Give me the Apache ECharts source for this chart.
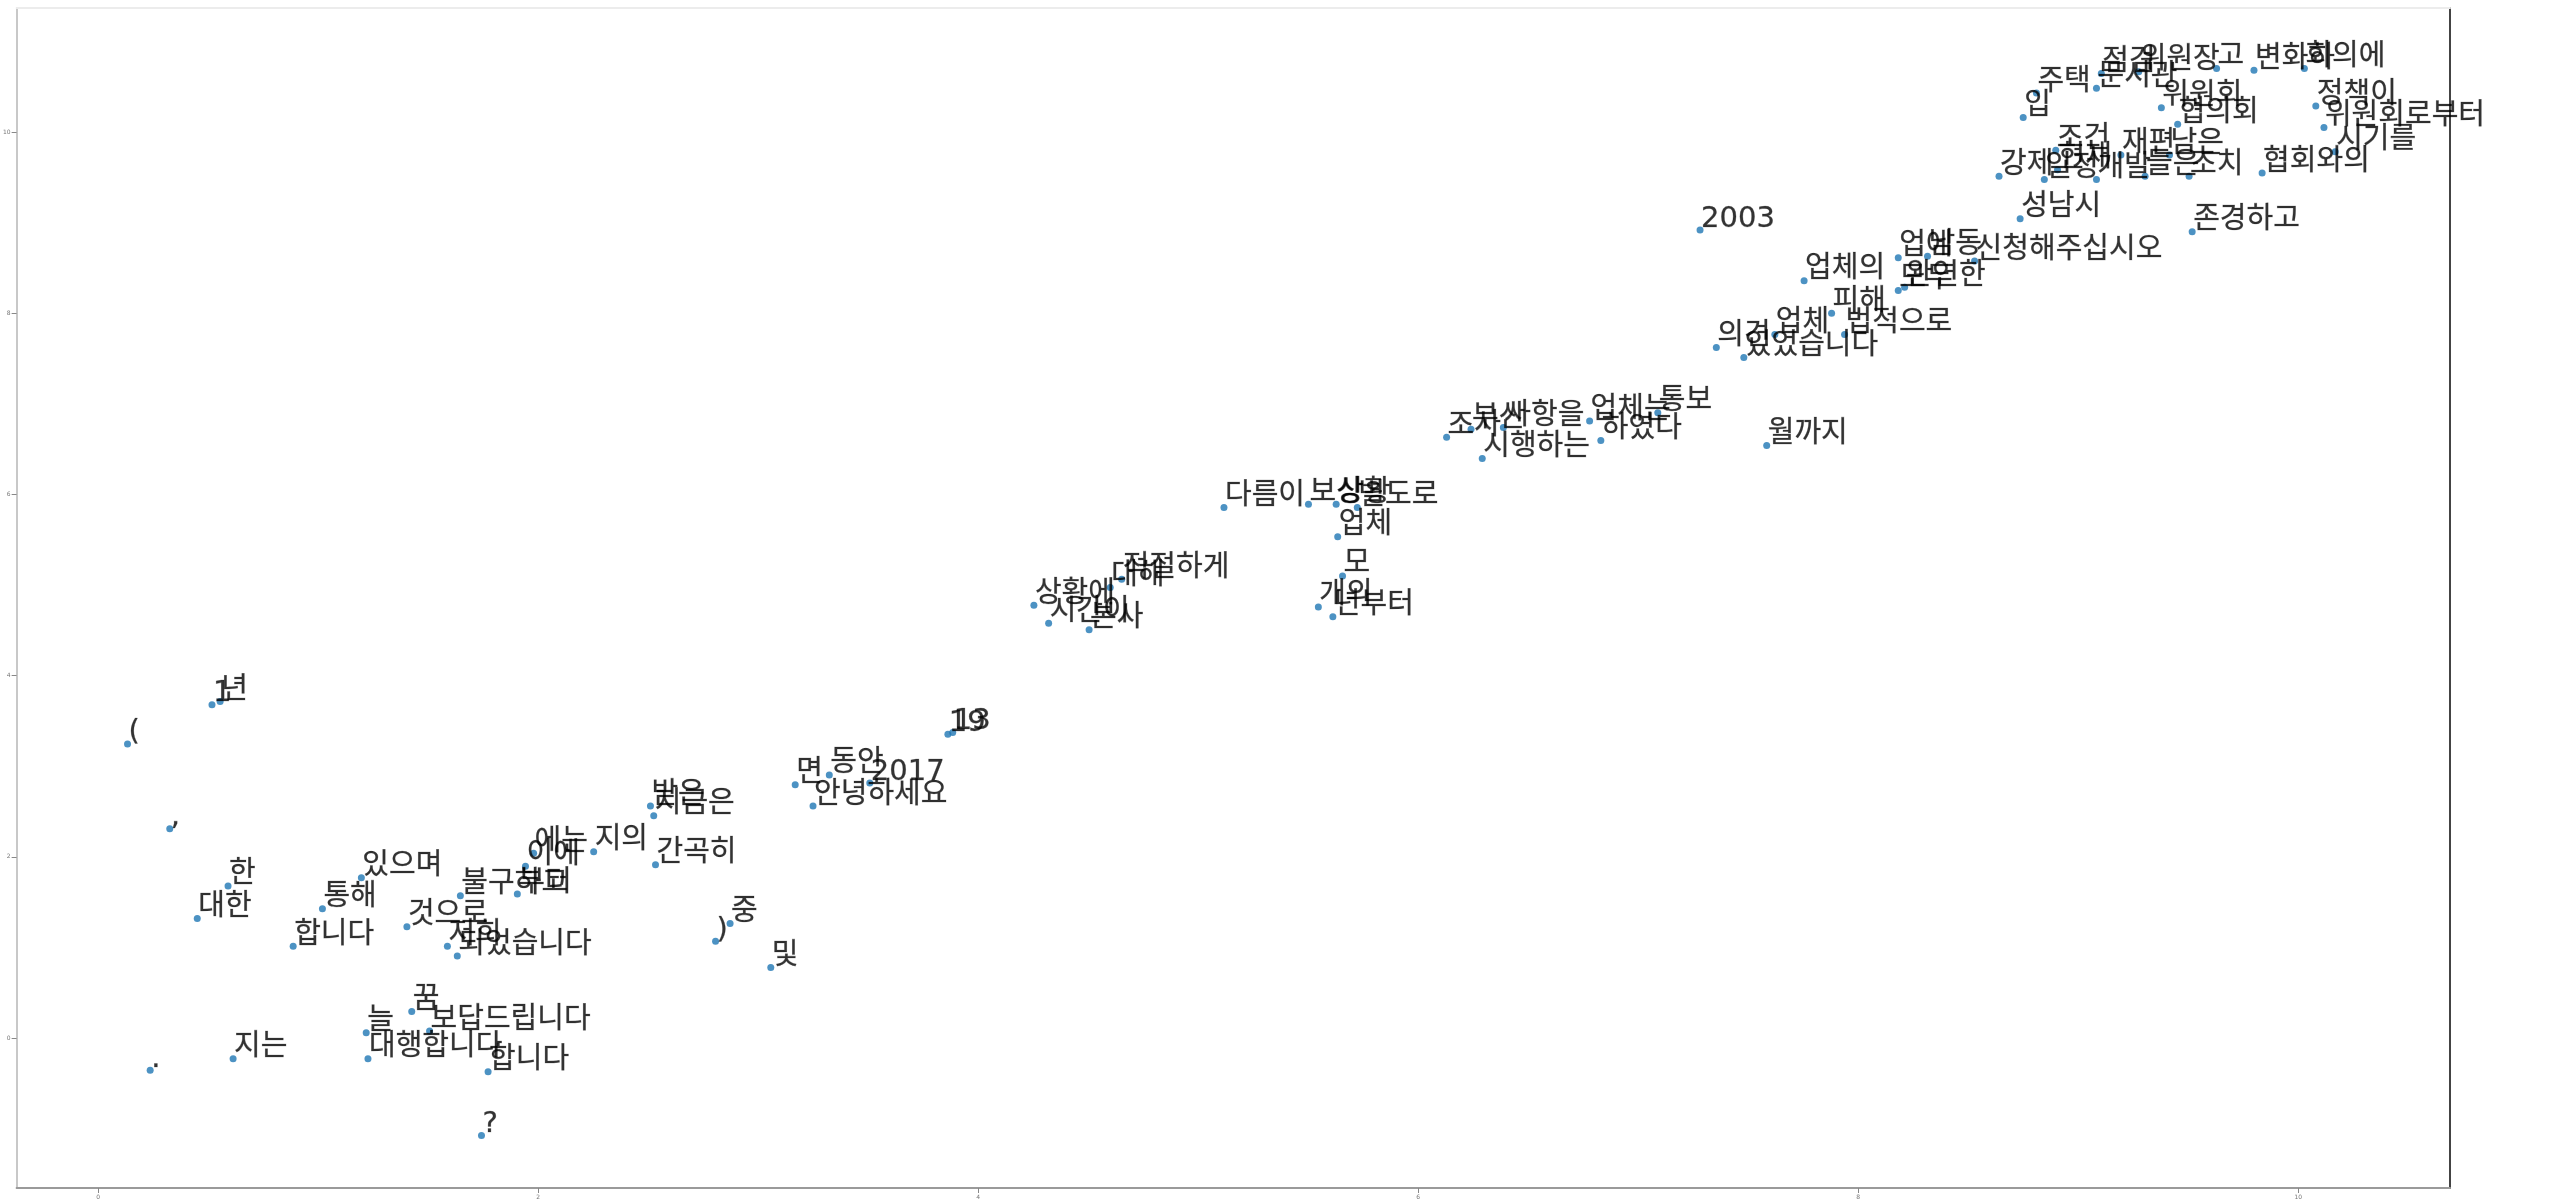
<!DOCTYPE html>
<html>
<head>
<meta charset="utf-8">
<style>
  html, body { margin: 0; padding: 0; background: #ffffff; }
  #chart { width: 2559px; height: 1204px; }
</style>
<script src="https://cdn.jsdelivr.net/npm/echarts@6/dist/echarts.min.js"></script>
</head>
<body>
<div id="chart"></div>
<script>
// Word embedding projection: each token is plotted at its 2-D coordinates.
const words = [
  "(", ",", "1", "년", "한", "대한", ".", "지는", "합니다", "통해",
  "있으며", "늘", "꿈", "보답드립니다", "대행합니다", "것으로", "저희", "되었습니다", "불구하고", "부터",
  "합니다", "?", "이에", "에는", "지의", "받은", "지금은", "간곡히", ")", "중",
  "및", "면", "동안", "2017", "안녕하세요", "19", "13", "상황에", "시간이", "본사",
  "대해", "적절하게", "다름이", "보상", "상황", "별도로", "업체", "모", "개의", "년부터",
  "조사", "부산", "사항을", "시행하는", "업체는", "통보", "하였다", "월까지", "2003", "업체의",
  "의견", "있었습니다", "업체", "피해", "모두", "완연한", "법적으로", "업에", "남동", "신청해주십시오",
  "성남시", "존경하고", "점검", "위원장", "고", "변화하", "회의에", "주택", "문서관", "위원회",
  "정책이", "입", "협의회", "위원회로부터", "조건", "재편", "남은", "시기를", "현재", "강제",
  "일정", "개발", "들은", "조치", "협회와의"
];
const xs = [
  0.133, 0.325, 0.517, 0.554, 0.590, 0.450, 0.236, 0.613, 0.886, 1.019,
  1.196, 1.218, 1.425, 1.506, 1.226, 1.403, 1.587, 1.632, 1.646, 1.905,
  1.772, 1.742, 1.942, 1.979, 2.252, 2.510, 2.525, 2.533, 2.806, 2.872,
  3.057, 3.168, 3.323, 3.507, 3.249, 3.862, 3.884, 4.253, 4.320, 4.504,
  4.600, 4.652, 5.117, 5.501, 5.627, 5.723, 5.634, 5.656, 5.546, 5.612,
  6.129, 6.240, 6.387, 6.291, 6.779, 7.089, 6.830, 7.584, 7.281, 7.754,
  7.355, 7.480, 7.621, 7.879, 8.182, 8.211, 7.938, 8.182, 8.315, 8.529,
  8.736, 9.518, 9.105, 9.275, 9.629, 9.799, 10.028, 8.810, 9.083, 9.378,
  10.080, 8.750, 9.452, 10.117, 8.898, 9.194, 9.415, 10.168, 8.906, 8.640,
  8.846, 9.083, 9.304, 9.504, 9.836
];
const ys = [
  3.246, 2.309, 3.678, 3.714, 1.679, 1.319, -0.356, -0.230, 1.013, 1.427,
  1.769, 0.059, 0.293, 0.077, -0.230, 1.229, 1.013, 0.905, 1.571, 1.589,
  -0.374, -1.076, 1.895, 2.039, 2.057, 2.561, 2.453, 1.913, 1.067, 1.265,
  0.779, 2.796, 2.904, 2.814, 2.561, 3.354, 3.372, 4.776, 4.578, 4.506,
  4.974, 5.065, 5.857, 5.893, 5.893, 5.857, 5.533, 5.101, 4.758, 4.650,
  6.631, 6.721, 6.739, 6.397, 6.811, 6.901, 6.595, 6.541, 8.918, 8.360,
  7.621, 7.513, 7.766, 8.000, 8.252, 8.288, 7.766, 8.612, 8.630, 8.576,
  9.044, 8.900, 10.647, 10.665, 10.701, 10.683, 10.701, 10.431, 10.485, 10.269,
  10.287, 10.160, 10.088, 10.052, 9.800, 9.746, 9.746, 9.782, 9.584, 9.512,
  9.476, 9.476, 9.512, 9.512, 9.548
];
const xTicks = [0, 2, 4, 6, 8, 10];
const yTicks = [0, 2, 4, 6, 8, 10];

const X_MIN = -0.371, X_MAX = 10.69, Y_MIN = -1.656, Y_MAX = 11.37;
const DOT = 7;
const FONT = 29;

const points = words.map((w, i) => ({ name: w, value: [xs[i], ys[i]] }));

const chart = echarts.init(document.getElementById('chart'));
const tickLabel = { fontSize: 6, color: '#777', margin: 6, fontFamily: 'DejaVu Sans' };

chart.setOption({
  animation: false,
  backgroundColor: '#ffffff',
  grid: { left: 16, right: 109, top: 8, bottom: 16, containLabel: false },
  xAxis: [{
    type: 'value', position: 'bottom', min: X_MIN, max: X_MAX,
    axisLine: { show: true, onZero: false, lineStyle: { color: '#9a9a9a', width: 2 } },
    axisTick: { show: true, length: 5, lineStyle: { color: '#888' }, customValues: xTicks },
    axisLabel: Object.assign({ customValues: xTicks }, tickLabel),
    splitLine: { show: false }
  }, {
    type: 'value', position: 'top', min: X_MIN, max: X_MAX,
    axisLine: { show: true, onZero: false, lineStyle: { color: '#ececec', width: 2 } },
    axisTick: { show: false }, axisLabel: { show: false }, splitLine: { show: false }
  }],
  yAxis: [{
    type: 'value', position: 'left', min: Y_MIN, max: Y_MAX,
    axisLine: { show: true, onZero: false, lineStyle: { color: '#c8c8c8', width: 2 } },
    axisTick: { show: true, length: 5, lineStyle: { color: '#888' }, customValues: yTicks },
    axisLabel: Object.assign({ customValues: yTicks }, tickLabel),
    splitLine: { show: false }
  }, {
    type: 'value', position: 'right', min: Y_MIN, max: Y_MAX,
    axisLine: { show: true, onZero: false, lineStyle: { color: '#444', width: 2 } },
    axisTick: { show: false }, axisLabel: { show: false }, splitLine: { show: false }
  }],
  series: [{
    type: 'scatter',
    xAxisIndex: 0,
    yAxisIndex: 0,
    data: points,
    symbolSize: DOT,
    itemStyle: { color: '#1f77b4' },
    label: {
      show: true,
      formatter: p => p.name,
      // text starts at the point and sits on its baseline
      position: [DOT / 2 + 1, DOT / 2 - Math.round(FONT * 0.38)],
      align: 'left',
      verticalAlign: 'middle',
      color: '#000',
      fontSize: FONT,
      textBorderColor: 'rgba(0,0,0,0.45)',
      textBorderWidth: 0.6,
      fontFamily: '"DejaVu Sans", "Noto Sans CJK KR", sans-serif'
    },
    labelLayout: { hideOverlap: false },
    emphasis: { disabled: true }
  }]
});
</script>
</body>
</html>
